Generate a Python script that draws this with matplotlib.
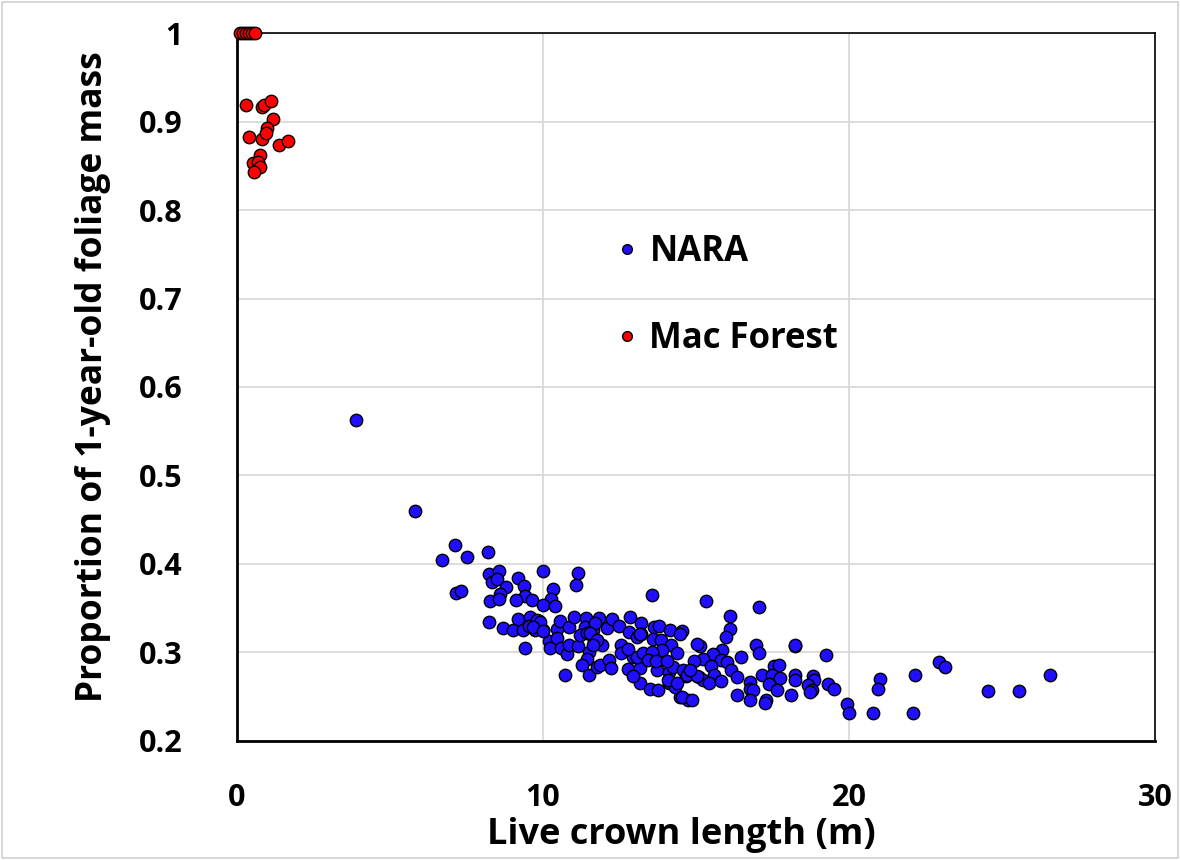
import matplotlib
matplotlib.use("Agg")
import matplotlib.pyplot as plt
from matplotlib.lines import Line2D
from matplotlib.patches import Rectangle

plt.rcParams['font.family'] = ['Open Sans', 'DejaVu Sans']

# Mac Forest (red)
mac_x = [0.10, 0.20, 0.30, 0.40, 0.50, 0.58,
         0.28, 0.83, 0.89, 1.10, 1.17, 0.99, 0.39, 0.81, 0.95, 1.38, 1.68,
         0.74, 0.51, 0.70, 0.75, 0.56]
mac_y = [1.0, 1.0, 1.0, 1.0, 1.0, 1.0,
         0.919, 0.916, 0.919, 0.923, 0.903, 0.893, 0.883, 0.880, 0.887, 0.874, 0.878,
         0.862, 0.853, 0.854, 0.849, 0.843]

# NARA (blue)
nara_x = [3.89, 5.82, 6.71, 7.12, 7.51, 8.20, 7.15, 7.33, 8.24, 8.56, 8.34, 8.49, 8.80, 8.59,
          8.28, 8.56, 9.20, 9.38, 9.40, 9.13, 9.63, 10.00, 10.33, 10.25, 9.99, 10.39, 11.15, 11.07,
          8.24, 8.69, 9.03, 9.18, 9.34, 9.58, 9.55, 9.75, 9.88, 9.99, 9.42, 10.21, 10.24, 10.45,
          10.57, 10.47, 10.58, 10.80, 10.84, 10.84, 11.01, 11.14, 11.41, 11.37, 11.21, 11.43, 11.67,
          11.65, 11.83, 12.08, 12.24, 11.92, 11.52, 11.43, 11.29, 10.71, 11.51, 11.75, 11.86, 12.16,
          12.23, 12.47, 12.56, 12.56, 12.84, 12.82, 13.07, 13.20, 13.21, 13.57, 13.64, 13.79, 13.61,
          13.85, 14.15, 14.20, 13.90, 13.57, 13.28, 12.95, 12.79, 13.17, 13.72, 14.13, 13.16, 13.50,
          13.76, 14.13, 14.48, 12.95,
          15.33, 17.05, 16.12, 16.11, 15.97, 15.13, 16.96, 17.05, 18.25, 19.24, 15.84, 15.56, 15.24,
          14.94, 15.81, 16.03, 16.47, 15.48, 16.13, 15.59, 14.67, 15.10, 15.24, 15.44, 15.81, 16.33,
          17.15, 17.54, 17.70, 17.47, 17.75, 16.76, 16.76, 16.87, 17.38, 17.66, 18.25, 18.25, 18.09,
          16.33, 16.76, 17.29, 17.27, 18.81, 18.86, 18.67, 18.78, 18.73, 19.32, 19.52, 19.92, 20.00,
          20.77, 21.01, 20.96, 22.16, 22.10, 14.53, 14.37, 14.26, 14.31, 14.75, 14.53,
          22.95, 23.14, 24.53, 25.57, 26.57, 18.22,
          9.79, 9.90, 9.68, 10.01, 11.70, 11.54, 11.76, 11.64, 13.17, 12.79, 13.06, 13.28, 13.55,
          13.44, 13.71, 14.04, 14.10, 14.37, 14.59, 14.70, 15.02, 15.02, 14.80, 14.86, 14.48]
nara_y = [0.563, 0.460, 0.404, 0.421, 0.408, 0.413, 0.367, 0.370, 0.389, 0.392, 0.380, 0.383, 0.374, 0.366,
          0.358, 0.361, 0.384, 0.375, 0.364, 0.359, 0.359, 0.392, 0.372, 0.360, 0.354, 0.353, 0.390, 0.376,
          0.335, 0.328, 0.325, 0.338, 0.325, 0.340, 0.330, 0.325, 0.336, 0.325, 0.305, 0.313, 0.305, 0.327,
          0.336, 0.316, 0.305, 0.298, 0.329, 0.309, 0.340, 0.307, 0.339, 0.329, 0.320, 0.322, 0.314,
          0.325, 0.339, 0.328, 0.338, 0.308, 0.301, 0.293, 0.286, 0.275, 0.275, 0.284, 0.286, 0.291,
          0.283, 0.330, 0.309, 0.299, 0.340, 0.323, 0.318, 0.333, 0.321, 0.365, 0.329, 0.330, 0.315,
          0.314, 0.325, 0.308, 0.303, 0.299, 0.297, 0.295, 0.281, 0.282, 0.280, 0.278, 0.266, 0.259,
          0.258, 0.265, 0.250, 0.273,
          0.358, 0.351, 0.341, 0.327, 0.318, 0.307, 0.309, 0.299, 0.307, 0.297, 0.303, 0.298, 0.293,
          0.290, 0.292, 0.289, 0.295, 0.285, 0.280, 0.275, 0.273, 0.272, 0.269, 0.265, 0.268, 0.272,
          0.275, 0.285, 0.286, 0.275, 0.271, 0.267, 0.259, 0.258, 0.264, 0.258, 0.275, 0.269, 0.252,
          0.252, 0.246, 0.246, 0.243, 0.273, 0.269, 0.263, 0.258, 0.255, 0.264, 0.259, 0.242, 0.232,
          0.232, 0.270, 0.259, 0.275, 0.232, 0.324, 0.299, 0.284, 0.261, 0.246, 0.250,
          0.289, 0.284, 0.256, 0.257, 0.275, 0.309,
          0.337, 0.335, 0.329, 0.324, 0.333, 0.322, 0.314, 0.308, 0.321, 0.304, 0.295, 0.299, 0.301,
          0.292, 0.290, 0.290, 0.269, 0.265, 0.280, 0.275, 0.310, 0.273, 0.280, 0.246, 0.321]

BLUE = '#1f0eff'
RED = '#ff0000'

fig = plt.figure(figsize=(11.8, 8.6), dpi=100)
fig.patches.append(Rectangle((0.002, 0.002), 0.996, 0.996, transform=fig.transFigure,
                             fill=False, edgecolor='#d0d0d0', linewidth=1.2))
ax = fig.add_axes([0.2008, 0.1384, 0.778, 0.8232])

ax.scatter(nara_x, nara_y, s=80, c=BLUE, edgecolors='black', linewidths=1.0, zorder=3, clip_on=False)
ax.scatter(mac_x, mac_y, s=80, c=RED, edgecolors='black', linewidths=1.0, zorder=3, clip_on=False)

ax.set_xlim(0, 30)
ax.set_ylim(0.2, 1.0)
ax.set_xticks([0, 10, 20, 30])
ax.set_yticks([0.2, 0.3, 0.4, 0.5, 0.6, 0.7, 0.8, 0.9, 1.0])
ax.set_yticklabels(['0.2', '0.3', '0.4', '0.5', '0.6', '0.7', '0.8', '0.9', '1'])
ax.grid(True, color='#d9d9d9', linewidth=1.3, zorder=0)
ax.set_axisbelow(True)
ax.tick_params(length=0, labelsize=22)
ax.tick_params(axis='y', pad=39)
ax.tick_params(axis='x', pad=30)
for lab in ax.get_xticklabels() + ax.get_yticklabels():
    lab.set_fontweight('bold')
for sp in ax.spines.values():
    sp.set_color('black')
    sp.set_linewidth(1.2)
ax.spines['left'].set_linewidth(2.0)
ax.spines['bottom'].set_linewidth(2.0)

ax.set_xlabel('Live crown length (m)', fontsize=26, fontweight='bold', labelpad=3)
ax.set_ylabel('Proportion of 1-year-old foliage mass', fontsize=25.5, fontweight='bold', labelpad=20)
ax.xaxis.label.set_x(0.484)
ax.yaxis.label.set_y(0.514)

handles = [Line2D([], [], marker='o', linestyle='none', markersize=7, markerfacecolor=BLUE,
                  markeredgecolor='black', markeredgewidth=1.0),
           Line2D([], [], marker='o', linestyle='none', markersize=7, markerfacecolor=RED,
                  markeredgecolor='black', markeredgewidth=1.0)]
leg = ax.legend(handles, ['NARA', 'Mac Forest'], loc='upper left', bbox_to_anchor=(0.379, 0.760),
                frameon=False, prop={'size': 25, 'weight': 'bold'}, labelspacing=1.46,
                handlelength=0.6, handletextpad=0.36)

fig.savefig('out.png', dpi=100)
